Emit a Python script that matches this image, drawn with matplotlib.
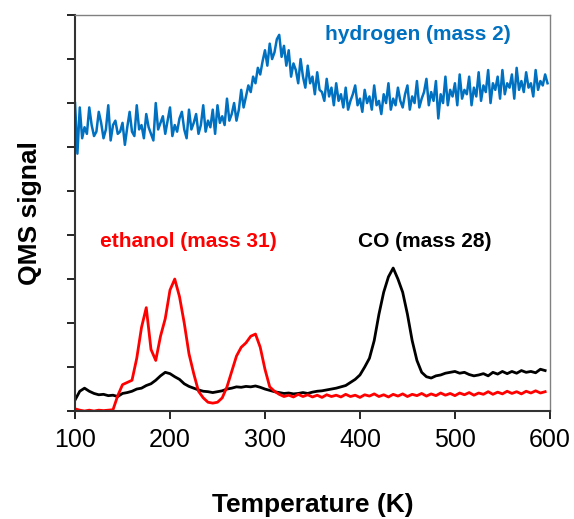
import matplotlib
matplotlib.use("Agg")
import matplotlib.pyplot as plt
import numpy as np

plt.rcParams["font.family"] = ["Liberation Sans", "DejaVu Sans"]

# hydrogen is sampled every 2.5 K, ethanol and CO every 5 K
temp_h2 = np.arange(100, 600, 2.5)
temperature = np.arange(100, 600, 5)

hydrogen = [
    7.0, 5.85, 6.9, 6.2, 6.45, 6.3, 6.9, 6.5, 6.25, 6.35,
    6.8, 6.55, 6.2, 6.4, 6.95, 6.15, 6.5, 6.6, 6.3, 6.35,
    6.55, 6.05, 6.45, 6.8, 6.35, 6.25, 6.95, 6.4, 6.5, 6.2,
    6.75, 6.45, 6.3, 6.15, 7.0, 6.4, 6.55, 6.7, 6.3, 6.6,
    6.9, 6.25, 6.5, 6.35, 6.65, 6.8, 6.4, 6.2, 6.85, 6.4,
    6.55, 6.75, 6.3, 6.5, 6.95, 6.35, 6.6, 6.45, 6.85, 6.3,
    6.95, 6.55, 6.7, 6.5, 7.1, 6.6, 6.75, 7.0, 6.6, 6.85,
    7.3, 6.9, 7.15, 7.4, 7.25, 7.6, 7.45, 7.8, 7.65, 7.95,
    8.2, 7.85, 8.35, 8.0, 8.15, 8.45, 8.55, 8.05, 8.3, 7.85,
    8.2, 7.6, 7.9, 7.75, 7.45, 8.0, 7.6, 7.35, 7.85, 7.45,
    7.6, 7.2, 7.7, 7.3, 7.25, 7.05, 7.55, 7.15, 7.35, 6.95,
    7.45, 7.05, 7.2, 6.9, 7.35, 6.85, 7.05, 7.2, 7.4, 6.95,
    7.1, 6.8, 7.3, 7.0, 7.15, 6.85, 7.4, 6.95, 7.05, 6.75,
    7.2, 7.0, 7.45, 6.85, 7.1, 6.95, 7.35, 7.05, 6.9, 7.2,
    7.4, 6.85, 7.15, 7.0, 7.5, 6.9, 7.1, 7.25, 7.55, 6.95,
    7.25, 7.05, 7.5, 6.65, 7.2, 7.0, 7.6, 6.95, 7.3, 7.15,
    7.45, 6.95, 7.65, 7.1, 7.3, 7.2, 7.6, 6.95, 7.35, 7.15,
    7.7, 7.05, 7.4, 7.25, 7.75, 7.0, 7.45, 7.3, 7.6, 7.1,
    7.75, 7.2, 7.45, 7.35, 7.65, 7.1, 7.8, 7.3, 7.5, 7.25,
    7.7, 7.35, 7.45, 7.15, 7.75, 7.3, 7.5, 7.4, 7.65, 7.45,
]

ethanol = [
    0.05, 0.02, 0.0, 0.02, 0.0, 0.02, 0.01, 0.02, 0.03, 0.35,
    0.6, 0.65, 0.7, 1.2, 1.9, 2.35, 1.4, 1.15, 1.7, 2.1,
    2.75, 3.0, 2.6, 2.0, 1.3, 0.85, 0.45, 0.3, 0.2, 0.18,
    0.2, 0.3, 0.55, 0.9, 1.25, 1.45, 1.55, 1.7, 1.75, 1.45,
    0.95, 0.55, 0.45, 0.38, 0.33, 0.36, 0.32, 0.38, 0.33, 0.37,
    0.32, 0.36, 0.31, 0.37, 0.33, 0.36, 0.32, 0.38, 0.33, 0.36,
    0.31, 0.37, 0.34, 0.39, 0.33, 0.37, 0.32, 0.38, 0.34, 0.39,
    0.33, 0.38, 0.35, 0.4, 0.34, 0.39, 0.35, 0.41, 0.36, 0.4,
    0.35, 0.41, 0.37, 0.42, 0.36, 0.41, 0.38, 0.44, 0.38, 0.43,
    0.39, 0.45, 0.4, 0.44, 0.39, 0.45, 0.41, 0.46, 0.41, 0.44,
]

co = [
    0.25, 0.45, 0.52, 0.45, 0.4, 0.37, 0.38, 0.35, 0.36, 0.33,
    0.4, 0.42, 0.45, 0.5, 0.52, 0.58, 0.62, 0.7, 0.8, 0.88,
    0.85, 0.78, 0.72, 0.62, 0.56, 0.52, 0.48, 0.45, 0.44, 0.42,
    0.44, 0.46, 0.5, 0.52, 0.55, 0.54, 0.56, 0.55, 0.57, 0.54,
    0.5, 0.47, 0.44, 0.42, 0.4, 0.41, 0.39, 0.4, 0.42, 0.4,
    0.43, 0.45, 0.46, 0.48, 0.5, 0.52, 0.55, 0.58, 0.65, 0.72,
    0.82, 1.0, 1.2, 1.6, 2.2, 2.7, 3.05, 3.25, 3.0, 2.7,
    2.2, 1.6, 1.15, 0.88, 0.78, 0.75, 0.8, 0.82, 0.86, 0.88,
    0.9, 0.86, 0.88, 0.83, 0.8, 0.82, 0.85, 0.8, 0.88, 0.84,
    0.9, 0.85, 0.9, 0.86, 0.92, 0.88, 0.9, 0.87, 0.95, 0.92,
]

fig = plt.figure(figsize=(5.74, 5.19), dpi=100)
ax = fig.add_axes([0.1307, 0.208, 0.8273, 0.763])

ax.plot(temp_h2, hydrogen, color="#0070C0", lw=1.8)
ax.plot(temperature, co, color="black", lw=2.0)
ax.plot(temperature, ethanol, color="#FF0000", lw=2.0)

ax.text(461, 8.55, "hydrogen (mass 2)", color="#0070C0", fontsize=15,
        fontweight="bold", ha="center", va="center")
ax.text(219, 3.85, "ethanol (mass 31)", color="#FF0000", fontsize=15,
        fontweight="bold", ha="center", va="center")
ax.text(468, 3.85, "CO (mass 28)", color="black", fontsize=15,
        fontweight="bold", ha="center", va="center")

ax.set_xlim(100, 600)
ax.set_ylim(0, 9)
ax.set_xticks(range(100, 601, 100))
ax.set_yticks(range(0, 10))
ax.set_yticklabels([])
ax.tick_params(axis="both", direction="out", length=6, width=1.2)
ax.tick_params(axis="x", labelsize=18, pad=6)

for side in ("left", "bottom"):
    ax.spines[side].set_color("#333333")
    ax.spines[side].set_linewidth(1.5)
for side in ("top", "right"):
    ax.spines[side].set_color("#808080")
    ax.spines[side].set_linewidth(1.0)

ax.set_xlabel("Temperature (K)", fontsize=19, fontweight="bold", labelpad=30)
ax.set_ylabel("QMS signal", fontsize=19, fontweight="bold", labelpad=14)

fig.savefig("out.png", dpi=100)
